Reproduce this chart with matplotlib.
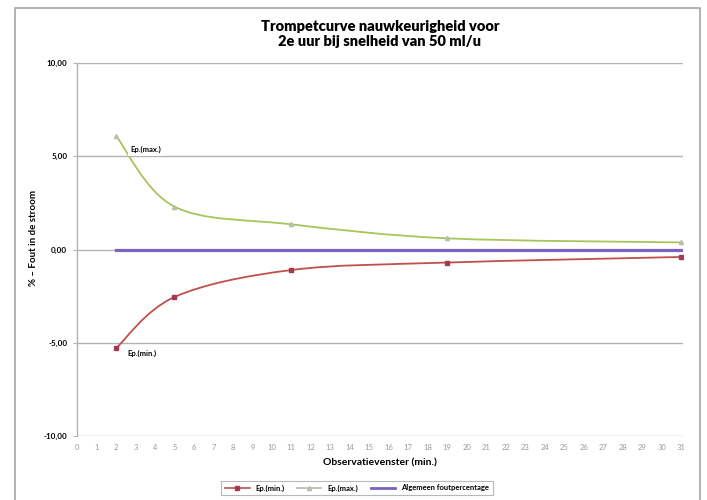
import matplotlib
matplotlib.use("Agg")
import matplotlib.pyplot as plt
from matplotlib.path import Path
from matplotlib.patches import PathPatch, Rectangle
from matplotlib.lines import Line2D
import numpy as np

plt.rcParams['font.family'] = ['Lato', 'DejaVu Sans']

# ---- data ----
minutes = [2, 5, 11, 19, 31]
ep_max = [6.10, 2.30, 1.35, 0.60, 0.38]
ep_min = [-5.30, -2.55, -1.10, -0.70, -0.40]
algemeen = [0.00, 0.00, 0.00, 0.00, 0.00]
x_ticks = list(range(0, 32))
y_ticks = [-10, -5, 0, 5, 10]
y_tick_labels = ["-10,00", "-5,00", "0,00", "5,00", "10,00"]
title = "Trompetcurve nauwkeurigheid voor\n2e uur bij snelheid van 50 ml/u"
xlabel = "Observatievenster (min.)"
ylabel = "% \u2013 Fout in de stroom"
series_names = ["Ep.(min.)", "Ep.(max.)", "Algemeen foutpercentage"]

c_min = "#c0504d"
c_min_marker = "#a33a52"
c_max = "#a8c45a"
c_max_marker = "#b9bfa8"
c_alg = "#7a62c4"

fig = plt.figure(figsize=(7.07, 5.0), dpi=100)
ax = fig.add_axes([77/707, 1-436/500, (683-77)/707, (436-63)/500])

# chart border
fig.patches.append(Rectangle((15/707, -0.02), (700-15)/707, 1-8/500+0.02,
                             transform=fig.transFigure, fill=False,
                             edgecolor="#a6a6a6", linewidth=1.2))


def smooth_path(xs, ys):
    pts = np.column_stack([xs, ys]).astype(float)
    n = len(pts)
    verts = [pts[0]]
    codes = [Path.MOVETO]
    for i in range(n - 1):
        p0 = pts[i - 1] if i > 0 else pts[i]
        p1 = pts[i]
        p2 = pts[i + 1]
        p3 = pts[i + 2] if i + 2 < n else pts[i + 1]
        c1 = p1 + (p2 - p0) / 6.0
        c2 = p2 - (p3 - p1) / 6.0
        verts += [c1, c2, p2]
        codes += [Path.CURVE4] * 3
    return Path(verts, codes)


# grid
for yt in y_ticks:
    ax.axhline(yt, color="#b3b3b3", linewidth=1.0, zorder=1)

ax.add_patch(PathPatch(smooth_path(minutes, ep_max), fill=False, edgecolor=c_max,
                       linewidth=1.3, zorder=3))
ax.add_patch(PathPatch(smooth_path(minutes, ep_min), fill=False, edgecolor=c_min,
                       linewidth=1.3, zorder=3))
ax.plot(minutes, algemeen, color=c_alg, linewidth=2.3, zorder=4)
ax.plot(minutes, ep_max, linestyle="none", marker="^", markersize=3,
        color=c_max_marker, zorder=5)
ax.plot(minutes, ep_min, linestyle="none", marker="s", markersize=3.3,
        color=c_min_marker, zorder=5)

ax.text(2.75, 5.35, series_names[1], fontsize=5.5, fontweight="bold", va="center",
        ha="left", bbox=dict(facecolor="white", edgecolor="none", pad=2), zorder=6)
ax.text(2.6, -5.55, series_names[0], fontsize=5.5, fontweight="bold", va="center",
        ha="left", bbox=dict(facecolor="white", edgecolor="none", pad=2), zorder=6)

ax.set_xlim(0, 31.1)
ax.set_ylim(-10, 10)
ax.set_xticks(x_ticks)
ax.set_xticklabels([str(t) for t in x_ticks], fontsize=5.5, color="#9a9a9a")
ax.set_yticks(y_ticks)
ax.set_yticklabels(y_tick_labels, fontsize=5.8, fontweight="bold")
ax.tick_params(axis="x", length=0, pad=6)
ax.tick_params(axis="y", length=3, color="#b3b3b3", pad=4)
for s in ["top", "right", "bottom"]:
    ax.spines[s].set_visible(False)
ax.spines["left"].set_color("#b3b3b3")
ax.spines["left"].set_linewidth(1.0)

fig.text(380/707, 1-34/500, title, ha="center", va="center", fontsize=10.5,
         fontweight="heavy", linespacing=1.1)
fig.text(380/707, 1-463/500, xlabel, ha="center", va="center", fontsize=7.5,
         fontweight="bold")
fig.text(33/707, 1-238/500, ylabel, ha="center", va="center", fontsize=7,
         fontweight="bold", rotation=90)

handles = [
    Line2D([], [], color=c_min, marker="s", markersize=3, markerfacecolor=c_min_marker,
           markeredgecolor=c_min_marker, linewidth=1.2),
    Line2D([], [], color="#b8b8b8", marker="^", markersize=3, markerfacecolor=c_max_marker,
           markeredgecolor=c_max_marker, linewidth=1.2),
    Line2D([], [], color=c_alg, linewidth=2.0),
]
leg = fig.legend(handles, series_names, loc="center", bbox_to_anchor=(357/707, 1-488/500),
                 ncol=3, fontsize=5.5, frameon=True, fancybox=False, handlelength=3.2,
                 columnspacing=1.6, borderpad=0.5)
leg.get_frame().set_edgecolor("#a6a6a6")
leg.get_frame().set_linewidth(0.8)
for t in leg.get_texts():
    t.set_fontweight("bold")

fig.savefig("out.png", dpi=100)
